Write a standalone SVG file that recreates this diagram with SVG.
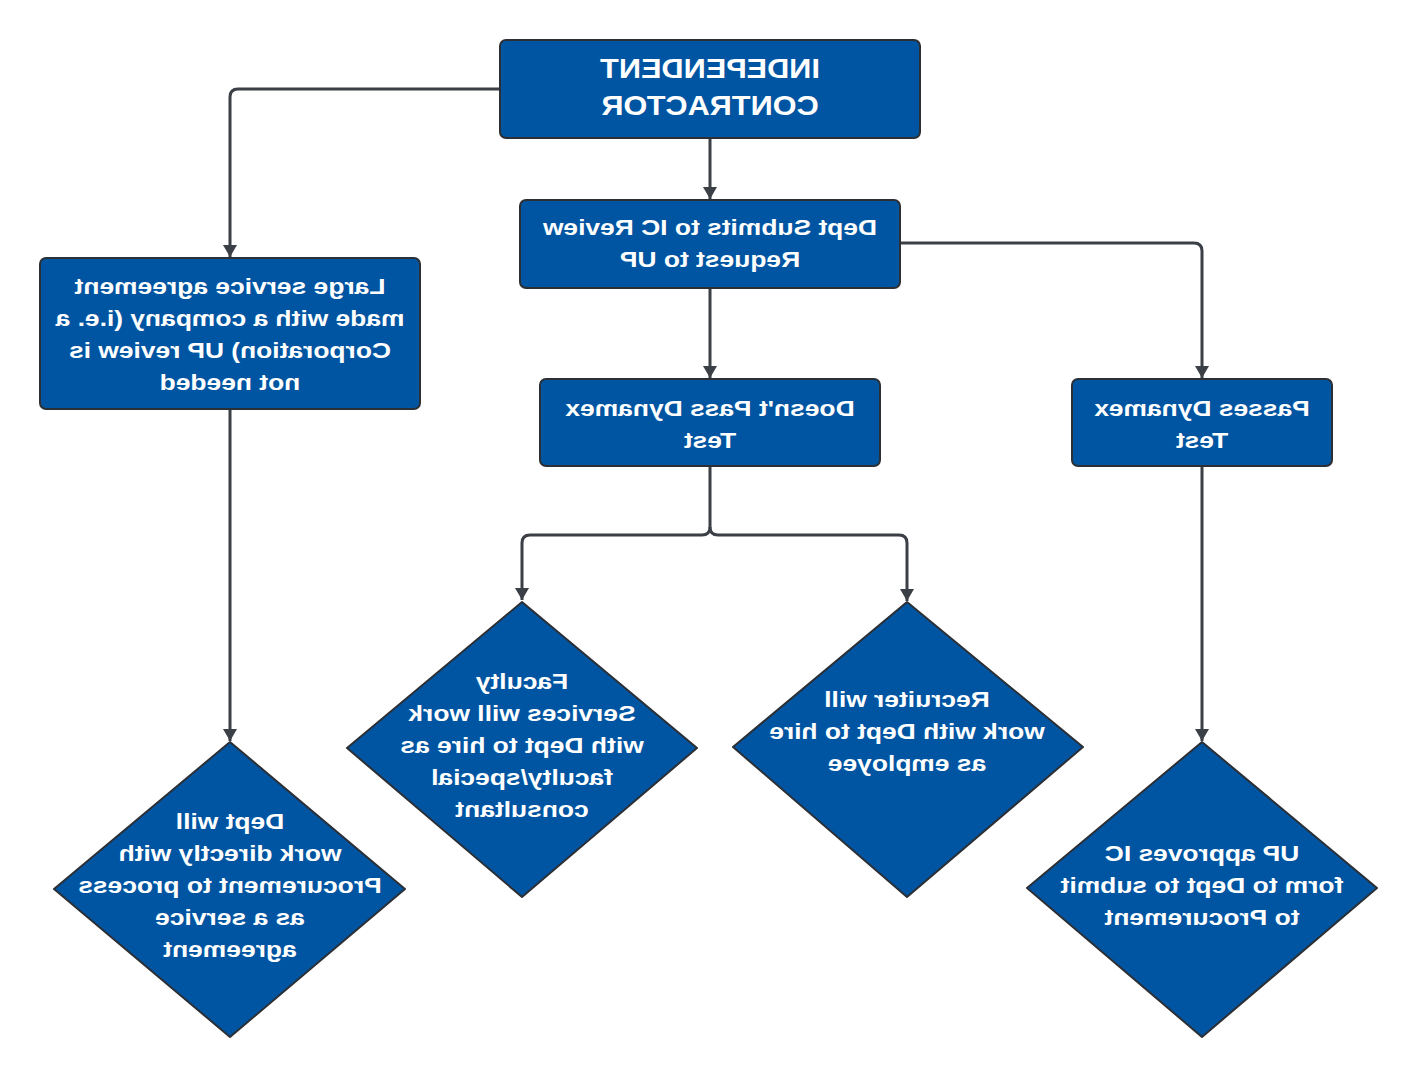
<svg xmlns="http://www.w3.org/2000/svg" width="1420" height="1080" viewBox="0 0 1420 1080">
<defs>
<style>
.box{fill:#0055a2;stroke:#2b2f36;stroke-width:2}
.t{font-family:"Liberation Sans",Arial,sans-serif;font-weight:bold;font-size:22px;fill:#ffffff;text-anchor:middle}
.title{font-size:28px}
.c{fill:none;stroke:#3b3f46;stroke-width:3}
</style>
<marker id="ah" viewBox="0 0 12 14" refX="12" refY="7" markerWidth="12" markerHeight="14" markerUnits="userSpaceOnUse" orient="auto">
<path d="M0,0 L12,7 L0,14 Z" fill="#3b3f46"/>
</marker>
</defs>
<rect width="1420" height="1080" fill="#ffffff"/>
<g id="connectors">
<path class="c" d="M500,89 H238 Q230,89 230,97 V257" marker-end="url(#ah)"/>
<path class="c" d="M710,138 V199" marker-end="url(#ah)"/>
<path class="c" d="M900,243 H1194 Q1202,243 1202,251 V378" marker-end="url(#ah)"/>
<path class="c" d="M710,288 V378" marker-end="url(#ah)"/>
<path class="c" d="M230,409 V741" marker-end="url(#ah)"/>
<path class="c" d="M710,466 V527 Q710,535 702,535 H530 Q522,535 522,543 V600" marker-end="url(#ah)"/>
<path class="c" d="M710,527 Q710,535 718,535 H899 Q907,535 907,543 V601" marker-end="url(#ah)"/>
<path class="c" d="M1202,466 V741" marker-end="url(#ah)"/>
</g>
<g id="n-ic">
<rect class="box" x="500" y="40" width="420" height="98" rx="6"/>
<text class="t title" transform="matrix(-1.095 0 0 1 710 0)" x="0" y="78">INDEPENDENT</text>
<text class="t title" transform="matrix(-1.095 0 0 1 710 0)" x="0" y="115">CONTRACTOR</text>
</g>
<g id="n-large">
<rect class="box" x="40" y="258" width="380" height="151" rx="6"/>
<text class="t" transform="matrix(-1.2 0 0 1 230 0)" x="0" y="294">Large service agreement</text>
<text class="t" transform="matrix(-1.2 0 0 1 230 0)" x="0" y="326">made with a company (i.e. a</text>
<text class="t" transform="matrix(-1.2 0 0 1 230 0)" x="0" y="358">Corporation) UP review is</text>
<text class="t" transform="matrix(-1.2 0 0 1 230 0)" x="0" y="390">not needed</text>
</g>
<g id="n-submit">
<rect class="box" x="520" y="200" width="380" height="88" rx="6"/>
<text class="t" transform="matrix(-1.2 0 0 1 710 0)" x="0" y="235">Dept Submits to IC Review</text>
<text class="t" transform="matrix(-1.2 0 0 1 710 0)" x="0" y="267">Request to UP</text>
</g>
<g id="n-fail">
<rect class="box" x="540" y="379" width="340" height="87" rx="6"/>
<text class="t" transform="matrix(-1.2 0 0 1 710 0)" x="0" y="416">Doesn't Pass Dynamex</text>
<text class="t" transform="matrix(-1.2 0 0 1 710 0)" x="0" y="448">Test</text>
</g>
<g id="n-pass">
<rect class="box" x="1072" y="379" width="260" height="87" rx="6"/>
<text class="t" transform="matrix(-1.2 0 0 1 1202 0)" x="0" y="416">Passes Dynamex</text>
<text class="t" transform="matrix(-1.2 0 0 1 1202 0)" x="0" y="448">Test</text>
</g>
<g id="n-faculty">
<path class="box" d="M522,602 L697,748 L522,897 L347,748 Z" stroke-linejoin="round"/>
<text class="t" transform="matrix(-1.2 0 0 1 522 0)" x="0" y="689">Faculty</text>
<text class="t" transform="matrix(-1.2 0 0 1 522 0)" x="0" y="721">Services will work</text>
<text class="t" transform="matrix(-1.2 0 0 1 522 0)" x="0" y="753">with Dept to hire as</text>
<text class="t" transform="matrix(-1.2 0 0 1 522 0)" x="0" y="785">faculty/special</text>
<text class="t" transform="matrix(-1.2 0 0 1 522 0)" x="0" y="817">consultant</text>
</g>
<g id="n-recruiter">
<path class="box" d="M907,602 L1083,747 L907,897 L733,747 Z" stroke-linejoin="round"/>
<text class="t" transform="matrix(-1.2 0 0 1 907 0)" x="0" y="707">Recruiter will</text>
<text class="t" transform="matrix(-1.2 0 0 1 907 0)" x="0" y="739">work with Dept to hire</text>
<text class="t" transform="matrix(-1.2 0 0 1 907 0)" x="0" y="771">as employee</text>
</g>
<g id="n-dept">
<path class="box" d="M230,742 L405,889 L230,1037 L54,889 Z" stroke-linejoin="round"/>
<text class="t" transform="matrix(-1.2 0 0 1 230 0)" x="0" y="829">Dept will</text>
<text class="t" transform="matrix(-1.2 0 0 1 230 0)" x="0" y="861">work directly with</text>
<text class="t" transform="matrix(-1.2 0 0 1 230 0)" x="0" y="893">Procurement to process</text>
<text class="t" transform="matrix(-1.2 0 0 1 230 0)" x="0" y="925">as a service</text>
<text class="t" transform="matrix(-1.2 0 0 1 230 0)" x="0" y="957">agreement</text>
</g>
<g id="n-up">
<path class="box" d="M1202,742 L1377,888 L1202,1037 L1027,888 Z" stroke-linejoin="round"/>
<text class="t" transform="matrix(-1.2 0 0 1 1202 0)" x="0" y="861">UP approves IC</text>
<text class="t" transform="matrix(-1.2 0 0 1 1202 0)" x="0" y="893">form to Dept to submit</text>
<text class="t" transform="matrix(-1.2 0 0 1 1202 0)" x="0" y="925">to Procurement</text>
</g>
</svg>
